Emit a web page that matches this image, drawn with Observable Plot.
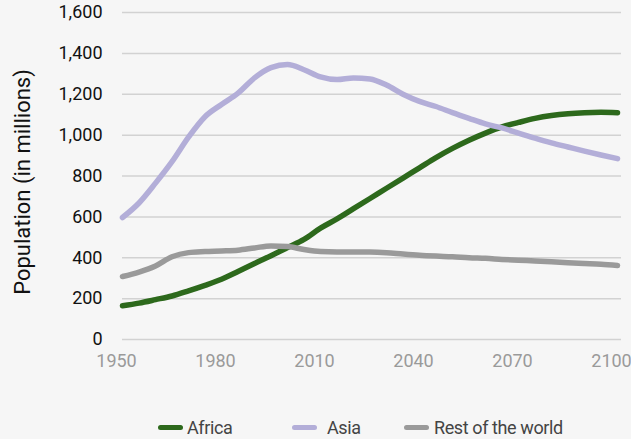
<!DOCTYPE html>
<html>
<head>
<meta charset="utf-8">
<script src="https://cdn.jsdelivr.net/npm/d3@7"></script>
<script src="https://cdn.jsdelivr.net/npm/@observablehq/plot@0.6"></script>
<style>
  html, body { margin: 0; padding: 0; background: #f6f6f6; }
  body { width: 631px; height: 439px; overflow: hidden; font-family: Roboto, sans-serif; }
  #legend { position: relative; height: 30px; margin-top: 15px; font-size: 18px; color: #444; letter-spacing: -0.4px; }
  .item { position: absolute; top: 0; display: flex; align-items: center; height: 30px; white-space: nowrap; }
  .sw { width: 25px; height: 5px; border-radius: 3px; margin-right: 4px; }
</style>
</head>
<body>
<div id="chart"></div>
<div id="legend"></div>
<script>
const years = [1950,1955,1960,1965,1970,1975,1980,1985,1990,1995,2000,2005,2010,2015,2020,2025,2030,2035,2040,2045,2050,2055,2060,2065,2070,2075,2080,2085,2090,2095,2100];
const africa = [165,178,195,213,238,265,295,333,372,410,450,490,545,590,640,690,740,790,840,890,935,975,1010,1040,1062,1082,1096,1105,1110,1112,1110];
const asia = [597,668,765,870,990,1090,1150,1205,1280,1330,1345,1320,1285,1272,1280,1275,1245,1200,1165,1140,1110,1082,1055,1035,1010,985,962,942,922,903,885];
const rest = [308,330,360,405,425,430,433,437,448,458,455,440,430,428,428,428,425,418,412,408,405,400,397,392,388,384,380,376,372,368,362];
const seriesNames = ["Africa", "Asia", "Rest of the world"];
const seriesColors = ["#2d691c", "#b3aed8", "#9a9a9a"];
const xTicks = [1950, 1980, 2010, 2040, 2070, 2100];
const yTicks = [0, 200, 400, 600, 800, 1000, 1200, 1400, 1600];

const values = [africa, asia, rest];
const data = [];
seriesNames.forEach((name, i) => years.forEach((y, j) => data.push({series: name, year: y, value: values[i][j]})));

const chart = Plot.plot({
  width: 631,
  height: 397,
  marginTop: 12,
  marginBottom: 58,
  marginLeft: 122,
  marginRight: 14,
  style: { background: "#f6f6f6", fontFamily: "Roboto, sans-serif", fontSize: "18px", overflow: "visible" },
  x: { domain: [1950, 2100] },
  y: { domain: [0, 1600] },
  color: { domain: seriesNames, range: seriesColors },
  marks: [
    Plot.ruleY(yTicks, { stroke: "#d2d2d2", strokeWidth: 1.5, insetRight: -4 }),
    Plot.axisX({ ticks: xTicks, tickFormat: d => String(d), tickSize: 0, tickPadding: 15, dx: -6, fill: "#9a9a9a", label: null, fontSize: 18 }),
    Plot.axisY({ ticks: yTicks, tickFormat: d => d3.format(",")(d), tickSize: 0, tickPadding: 20, fill: "#111", label: null, fontSize: 18 }),
    Plot.text(["Population (in millions)"], { frameAnchor: "left", textAnchor: "middle", dx: -100, dy: 6, rotate: -90, fill: "#111", fontSize: 22, letterSpacing: 0.7 }),
    Plot.line(data, { x: "year", y: "value", z: "series", stroke: "series", strokeWidth: 5.5, curve: "monotone-x", strokeLinecap: "round", strokeLinejoin: "round" })
  ]
});
document.getElementById("chart").appendChild(chart);

const legend = document.getElementById("legend");
const lefts = [158, 292, 404];
const gaps = [4, 10, 5];
seriesNames.forEach((name, i) => {
  const item = document.createElement("div");
  item.className = "item";
  item.style.left = lefts[i] + "px";
  const sw = document.createElement("div");
  sw.className = "sw";
  sw.style.background = seriesColors[i];
  sw.style.marginRight = gaps[i] + "px";
  const t = document.createElement("span");
  t.textContent = name;
  item.appendChild(sw); item.appendChild(t);
  legend.appendChild(item);
});
</script>
</body>
</html>
